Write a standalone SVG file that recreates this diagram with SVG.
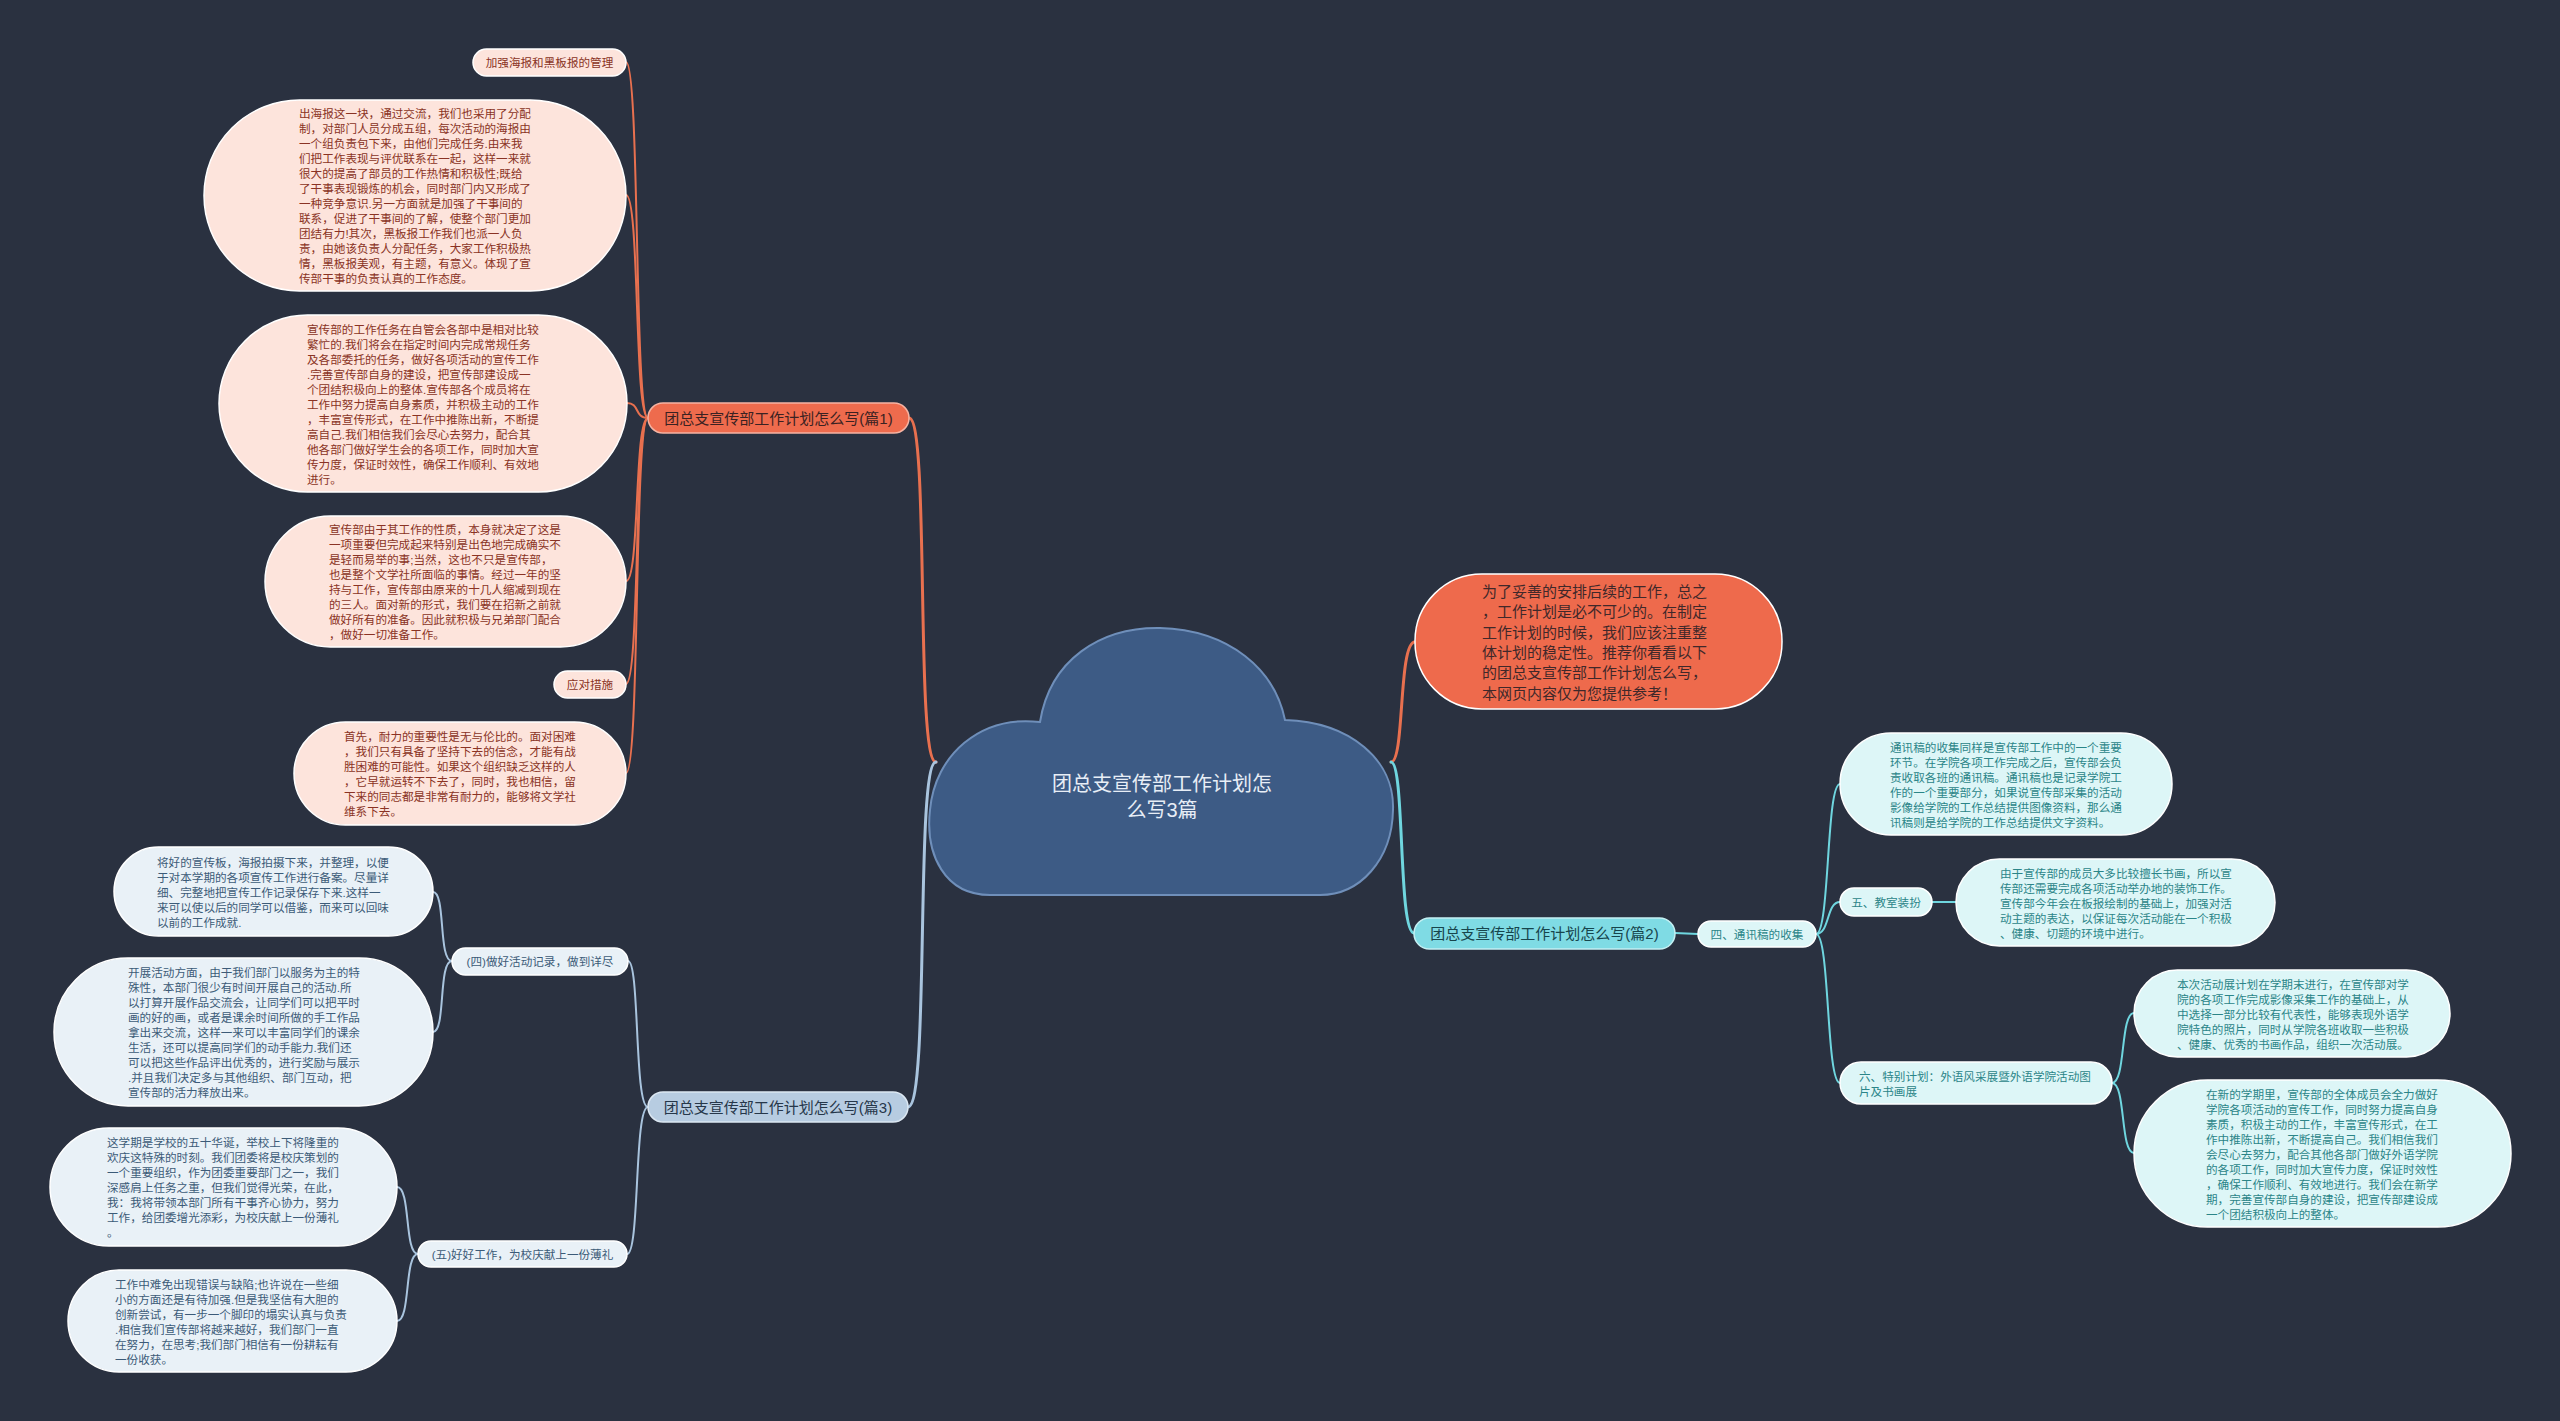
<svg xmlns="http://www.w3.org/2000/svg" width="2560" height="1421" viewBox="0 0 2560 1421">
<style>
.t{font-family:"Liberation Sans","Noto Sans CJK SC",sans-serif;dominant-baseline:central}
.t tspan{dominant-baseline:central}
.s{font-size:11.6px}
.m{font-size:15px}
.c1{fill:#fde4dc;stroke:#ffffff;stroke-width:1.5}
.c3{fill:#e9f1f7;stroke:#ffffff;stroke-width:1.5}
.c2{fill:#ddf6f7;stroke:#ffffff;stroke-width:1.5}
.x1{fill:#8a3324}
.x3{fill:#3c5b78}
.x2{fill:#2b8588}
.l1{fill:none;stroke:#e8704f}
.l3{fill:none;stroke:#a9c4de}
.l2{fill:none;stroke:#6fd6df}
</style>
<rect width="2560" height="1421" fill="#2a3140"/>
<g id="connectors" stroke-linecap="round">
<path class="l1" stroke-width="3" d="M936,762 C915,762 930,418 909,418"/>
<path class="l3" stroke-width="3" d="M936,762 C915,762 930,1107 908,1107"/>
<path class="l1" stroke-width="3" d="M1391,762 C1405,762 1398,642 1415,642"/>
<path class="l2" stroke-width="3" d="M1391,762 C1405,762 1398,933 1414,933"/>
<path class="l1" stroke-width="2" d="M648,418 C634,418 640,62 626,62"/>
<path class="l1" stroke-width="2" d="M648,418 C634,418 640,195 626,195"/>
<path class="l1" stroke-width="2" d="M648,418 C634,418 640,403 627,403"/>
<path class="l1" stroke-width="2" d="M648,418 C634,418 640,581 626,581"/>
<path class="l1" stroke-width="2" d="M648,418 C634,418 640,684 626,684"/>
<path class="l1" stroke-width="2" d="M648,418 C634,418 640,773 626,773"/>
<path class="l3" stroke-width="2" d="M648,1107 C634,1107 640,961 628,961"/>
<path class="l3" stroke-width="2" d="M648,1107 C634,1107 640,1254 627,1254"/>
<path class="l3" stroke-width="2" d="M452,961 C438,961 446,892 433,892"/>
<path class="l3" stroke-width="2" d="M452,961 C438,961 446,1032 433,1032"/>
<path class="l3" stroke-width="2" d="M418,1254 C404,1254 411,1187 397,1187"/>
<path class="l3" stroke-width="2" d="M418,1254 C404,1254 411,1321 397,1321"/>
<path class="l2" stroke-width="2" d="M1675,933 L1698,934"/>
<path class="l2" stroke-width="2" d="M1816,934 C1830,934 1826,784 1840,784"/>
<path class="l2" stroke-width="2" d="M1816,934 C1830,934 1826,902 1840,902"/>
<path class="l2" stroke-width="2" d="M1816,934 C1830,934 1826,1083 1840,1083"/>
<path class="l2" stroke-width="2" d="M1932,902 L1956,902"/>
<path class="l2" stroke-width="2" d="M2112,1083 C2126,1083 2120,1013 2134,1013"/>
<path class="l2" stroke-width="2" d="M2112,1083 C2126,1083 2120,1153 2134,1153"/>
</g>
<g id="center">
<path d="M990,895 C945,895 925,855 930,810 C935,755 980,715 1040,722 C1050,660 1100,627 1160,628 C1230,630 1275,670 1285,720 C1350,722 1395,760 1393,810 C1392,860 1360,895 1320,895 Z" fill="#3d5b85" stroke="#6f8fba" stroke-width="2"/>
<text class="t" font-size="20" fill="#e8eef6" text-anchor="middle"><tspan x="1162" y="784">团总支宣传部工作计划怎</tspan><tspan x="1162" y="810">么写3篇</tspan></text>
</g>
<g id="intro">
<rect x="1415" y="574" width="367" height="135" rx="67" fill="#ee6a4c" stroke="#ffffff" stroke-width="1.5"/>
<text class="t m" fill="#40282a"><tspan x="1482" y="591">为了妥善的安排后续的工作，总之</tspan><tspan x="1482" y="611.3">，工作计划是必不可少的。在制定</tspan><tspan x="1482" y="631.6">工作计划的时候，我们应该注重整</tspan><tspan x="1482" y="651.9">体计划的稳定性。推荐你看看以下</tspan><tspan x="1482" y="672.2">的团总支宣传部工作计划怎么写，</tspan><tspan x="1482" y="692.5">本网页内容仅为您提供参考！</tspan></text>
</g>
<g id="branch1">
<rect x="648" y="403" width="261" height="30" rx="15" fill="#ee6b4d" stroke="#f6b3a2" stroke-width="1.5"/>
<text class="t m" x="778.5" y="418" text-anchor="middle" fill="#3a2222">团总支宣传部工作计划怎么写(篇1)</text>
</g>
<g id="b1-label1">
<rect class="c1" x="473" y="49" width="153" height="27" rx="13.5"/>
<text class="t s x1" x="549.5" y="62.5" text-anchor="middle">加强海报和黑板报的管理</text>
</g>
<g id="b1-text1">
<rect class="c1" x="204" y="100" width="422" height="191" rx="95.5"/>
<text class="t s x1"><tspan x="299" y="113">出海报这一块，通过交流，我们也采用了分配</tspan><tspan x="299" y="128">制，对部门人员分成五组，每次活动的海报由</tspan><tspan x="299" y="143">一个组负责包下来，由他们完成任务.由来我</tspan><tspan x="299" y="158">们把工作表现与评优联系在一起，这样一来就</tspan><tspan x="299" y="173">很大的提高了部员的工作热情和积极性;既给</tspan><tspan x="299" y="188">了干事表现锻炼的机会，同时部门内又形成了</tspan><tspan x="299" y="203">一种竞争意识.另一方面就是加强了干事间的</tspan><tspan x="299" y="218">联系，促进了干事间的了解，使整个部门更加</tspan><tspan x="299" y="233">团结有力!其次，黑板报工作我们也派一人负</tspan><tspan x="299" y="248">责，由她该负责人分配任务，大家工作积极热</tspan><tspan x="299" y="263">情，黑板报美观，有主题，有意义。体现了宣</tspan><tspan x="299" y="278">传部干事的负责认真的工作态度。</tspan></text>
</g>
<g id="b1-text2">
<rect class="c1" x="219" y="315" width="408" height="177" rx="88.5"/>
<text class="t s x1"><tspan x="307" y="328.5">宣传部的工作任务在自管会各部中是相对比较</tspan><tspan x="307" y="343.5">繁忙的.我们将会在指定时间内完成常规任务</tspan><tspan x="307" y="358.5">及各部委托的任务，做好各项活动的宣传工作</tspan><tspan x="307" y="373.5">.完善宣传部自身的建设，把宣传部建设成一</tspan><tspan x="307" y="388.5">个团结积极向上的整体.宣传部各个成员将在</tspan><tspan x="307" y="403.5">工作中努力提高自身素质，并积极主动的工作</tspan><tspan x="307" y="418.5">，丰富宣传形式，在工作中推陈出新，不断提</tspan><tspan x="307" y="433.5">高自己.我们相信我们会尽心去努力，配合其</tspan><tspan x="307" y="448.5">他各部门做好学生会的各项工作，同时加大宣</tspan><tspan x="307" y="463.5">传力度，保证时效性，确保工作顺利、有效地</tspan><tspan x="307" y="478.5">进行。</tspan></text>
</g>
<g id="b1-text3">
<rect class="c1" x="265" y="516" width="361" height="131" rx="65.5"/>
<text class="t s x1"><tspan x="329" y="529">宣传部由于其工作的性质，本身就决定了这是</tspan><tspan x="329" y="544">一项重要但完成起来特别是出色地完成确实不</tspan><tspan x="329" y="559">是轻而易举的事;当然，这也不只是宣传部，</tspan><tspan x="329" y="574">也是整个文学社所面临的事情。经过一年的坚</tspan><tspan x="329" y="589">持与工作，宣传部由原来的十几人缩减到现在</tspan><tspan x="329" y="604">的三人。面对新的形式，我们要在招新之前就</tspan><tspan x="329" y="619">做好所有的准备。因此就积极与兄弟部门配合</tspan><tspan x="329" y="634">，做好一切准备工作。</tspan></text>
</g>
<g id="b1-label2">
<rect class="c1" x="554" y="671" width="72" height="27" rx="13.5"/>
<text class="t s x1" x="590" y="684.5" text-anchor="middle">应对措施</text>
</g>
<g id="b1-text4">
<rect class="c1" x="294" y="722" width="332" height="103" rx="51.5"/>
<text class="t s x1"><tspan x="344" y="736">首先，耐力的重要性是无与伦比的。面对困难</tspan><tspan x="344" y="751">，我们只有具备了坚持下去的信念，才能有战</tspan><tspan x="344" y="766">胜困难的可能性。如果这个组织缺乏这样的人</tspan><tspan x="344" y="781">，它早就运转不下去了，同时，我也相信，留</tspan><tspan x="344" y="796">下来的同志都是非常有耐力的，能够将文学社</tspan><tspan x="344" y="811">维系下去。</tspan></text>
</g>
<g id="branch3">
<rect x="648" y="1092" width="260" height="30" rx="15" fill="#b7cce1" stroke="#dbe7f2" stroke-width="1.5"/>
<text class="t m" x="778" y="1107" text-anchor="middle" fill="#26374a">团总支宣传部工作计划怎么写(篇3)</text>
</g>
<g id="b3-label1">
<rect class="c3" x="452" y="948" width="176" height="27" rx="13.5"/>
<text class="t s x3" x="540" y="961.5" text-anchor="middle">(四)做好活动记录，做到详尽</text>
</g>
<g id="b3-text1">
<rect class="c3" x="114" y="847" width="319" height="89" rx="44.5"/>
<text class="t s x3"><tspan x="157" y="861.5">将好的宣传板，海报拍摄下来，并整理，以便</tspan><tspan x="157" y="876.5">于对本学期的各项宣传工作进行备案。尽量详</tspan><tspan x="157" y="891.5">细、完整地把宣传工作记录保存下来.这样一</tspan><tspan x="157" y="906.5">来可以使以后的同学可以借鉴，而来可以回味</tspan><tspan x="157" y="921.5">以前的工作成就.</tspan></text>
</g>
<g id="b3-text2">
<rect class="c3" x="54" y="958" width="379" height="148" rx="74"/>
<text class="t s x3"><tspan x="128" y="972">开展活动方面，由于我们部门以服务为主的特</tspan><tspan x="128" y="987">殊性，本部门很少有时间开展自己的活动.所</tspan><tspan x="128" y="1002">以打算开展作品交流会，让同学们可以把平时</tspan><tspan x="128" y="1017">画的好的画，或者是课余时间所做的手工作品</tspan><tspan x="128" y="1032">拿出来交流，这样一来可以丰富同学们的课余</tspan><tspan x="128" y="1047">生活，还可以提高同学们的动手能力.我们还</tspan><tspan x="128" y="1062">可以把这些作品评出优秀的，进行奖励与展示</tspan><tspan x="128" y="1077">.并且我们决定多与其他组织、部门互动，把</tspan><tspan x="128" y="1092">宣传部的活力释放出来。</tspan></text>
</g>
<g id="b3-label2">
<rect class="c3" x="418" y="1241" width="209" height="26" rx="13"/>
<text class="t s x3" x="522.5" y="1254" text-anchor="middle">(五)好好工作，为校庆献上一份薄礼</text>
</g>
<g id="b3-text3">
<rect class="c3" x="50" y="1128" width="347" height="118" rx="59"/>
<text class="t s x3"><tspan x="107" y="1142">这学期是学校的五十华诞，举校上下将隆重的</tspan><tspan x="107" y="1157">欢庆这特殊的时刻。我们团委将是校庆策划的</tspan><tspan x="107" y="1172">一个重要组织，作为团委重要部门之一，我们</tspan><tspan x="107" y="1187">深感肩上任务之重，但我们觉得光荣，在此，</tspan><tspan x="107" y="1202">我：我将带领本部门所有干事齐心协力，努力</tspan><tspan x="107" y="1217">工作，给团委增光添彩，为校庆献上一份薄礼</tspan><tspan x="107" y="1232">。</tspan></text>
</g>
<g id="b3-text4">
<rect class="c3" x="68" y="1270" width="329" height="102" rx="51"/>
<text class="t s x3"><tspan x="115" y="1283.5">工作中难免出现错误与缺陷;也许说在一些细</tspan><tspan x="115" y="1298.5">小的方面还是有待加强.但是我坚信有大胆的</tspan><tspan x="115" y="1313.5">创新尝试，有一步一个脚印的塌实认真与负责</tspan><tspan x="115" y="1328.5">.相信我们宣传部将越来越好，我们部门一直</tspan><tspan x="115" y="1343.5">在努力，在思考;我们部门相信有一份耕耘有</tspan><tspan x="115" y="1358.5">一份收获。</tspan></text>
</g>
<g id="branch2">
<rect x="1414" y="918" width="261" height="31" rx="15.5" fill="#7fdbe4" stroke="#c4f0f3" stroke-width="1.5"/>
<text class="t m" x="1544.5" y="933.5" text-anchor="middle" fill="#17454c">团总支宣传部工作计划怎么写(篇2)</text>
</g>
<g id="b2-label1">
<rect class="c2" x="1698" y="921" width="118" height="26" rx="13"/>
<text class="t s x2" x="1757" y="934" text-anchor="middle">四、通讯稿的收集</text>
</g>
<g id="b2-text1">
<rect class="c2" x="1840" y="733" width="332" height="102" rx="51"/>
<text class="t s x2"><tspan x="1890" y="746.5">通讯稿的收集同样是宣传部工作中的一个重要</tspan><tspan x="1890" y="761.5">环节。在学院各项工作完成之后，宣传部会负</tspan><tspan x="1890" y="776.5">责收取各班的通讯稿。通讯稿也是记录学院工</tspan><tspan x="1890" y="791.5">作的一个重要部分，如果说宣传部采集的活动</tspan><tspan x="1890" y="806.5">影像给学院的工作总结提供图像资料，那么通</tspan><tspan x="1890" y="821.5">讯稿则是给学院的工作总结提供文字资料。</tspan></text>
</g>
<g id="b2-label2">
<rect class="c2" x="1840" y="888" width="92" height="28" rx="14"/>
<text class="t s x2" x="1886" y="902" text-anchor="middle">五、教室装扮</text>
</g>
<g id="b2-text2">
<rect class="c2" x="1956" y="859" width="319" height="87" rx="43.5"/>
<text class="t s x2"><tspan x="2000" y="872.5">由于宣传部的成员大多比较擅长书画，所以宣</tspan><tspan x="2000" y="887.5">传部还需要完成各项活动举办地的装饰工作。</tspan><tspan x="2000" y="902.5">宣传部今年会在板报绘制的基础上，加强对活</tspan><tspan x="2000" y="917.5">动主题的表达，以保证每次活动能在一个积极</tspan><tspan x="2000" y="932.5">、健康、切题的环境中进行。</tspan></text>
</g>
<g id="b2-label3">
<rect class="c2" x="1840" y="1062" width="272" height="42" rx="21"/>
<text class="t s x2"><tspan x="1859" y="1076">六、特别计划：外语风采展暨外语学院活动图</tspan><tspan x="1859" y="1091">片及书画展</tspan></text>
</g>
<g id="b2-text3">
<rect class="c2" x="2134" y="970" width="316" height="87" rx="43.5"/>
<text class="t s x2"><tspan x="2177" y="983.5">本次活动展计划在学期末进行，在宣传部对学</tspan><tspan x="2177" y="998.5">院的各项工作完成影像采集工作的基础上，从</tspan><tspan x="2177" y="1013.5">中选择一部分比较有代表性，能够表现外语学</tspan><tspan x="2177" y="1028.5">院特色的照片，同时从学院各班收取一些积极</tspan><tspan x="2177" y="1043.5">、健康、优秀的书画作品，组织一次活动展。</tspan></text>
</g>
<g id="b2-text4">
<rect class="c2" x="2134" y="1080" width="377" height="147" rx="73.5"/>
<text class="t s x2"><tspan x="2206" y="1093.5">在新的学期里，宣传部的全体成员会全力做好</tspan><tspan x="2206" y="1108.5">学院各项活动的宣传工作，同时努力提高自身</tspan><tspan x="2206" y="1123.5">素质，积极主动的工作，丰富宣传形式，在工</tspan><tspan x="2206" y="1138.5">作中推陈出新，不断提高自己。我们相信我们</tspan><tspan x="2206" y="1153.5">会尽心去努力，配合其他各部门做好外语学院</tspan><tspan x="2206" y="1168.5">的各项工作，同时加大宣传力度，保证时效性</tspan><tspan x="2206" y="1183.5">，确保工作顺利、有效地进行。我们会在新学</tspan><tspan x="2206" y="1198.5">期，完善宣传部自身的建设，把宣传部建设成</tspan><tspan x="2206" y="1213.5">一个团结积极向上的整体。</tspan></text>
</g>
</svg>
